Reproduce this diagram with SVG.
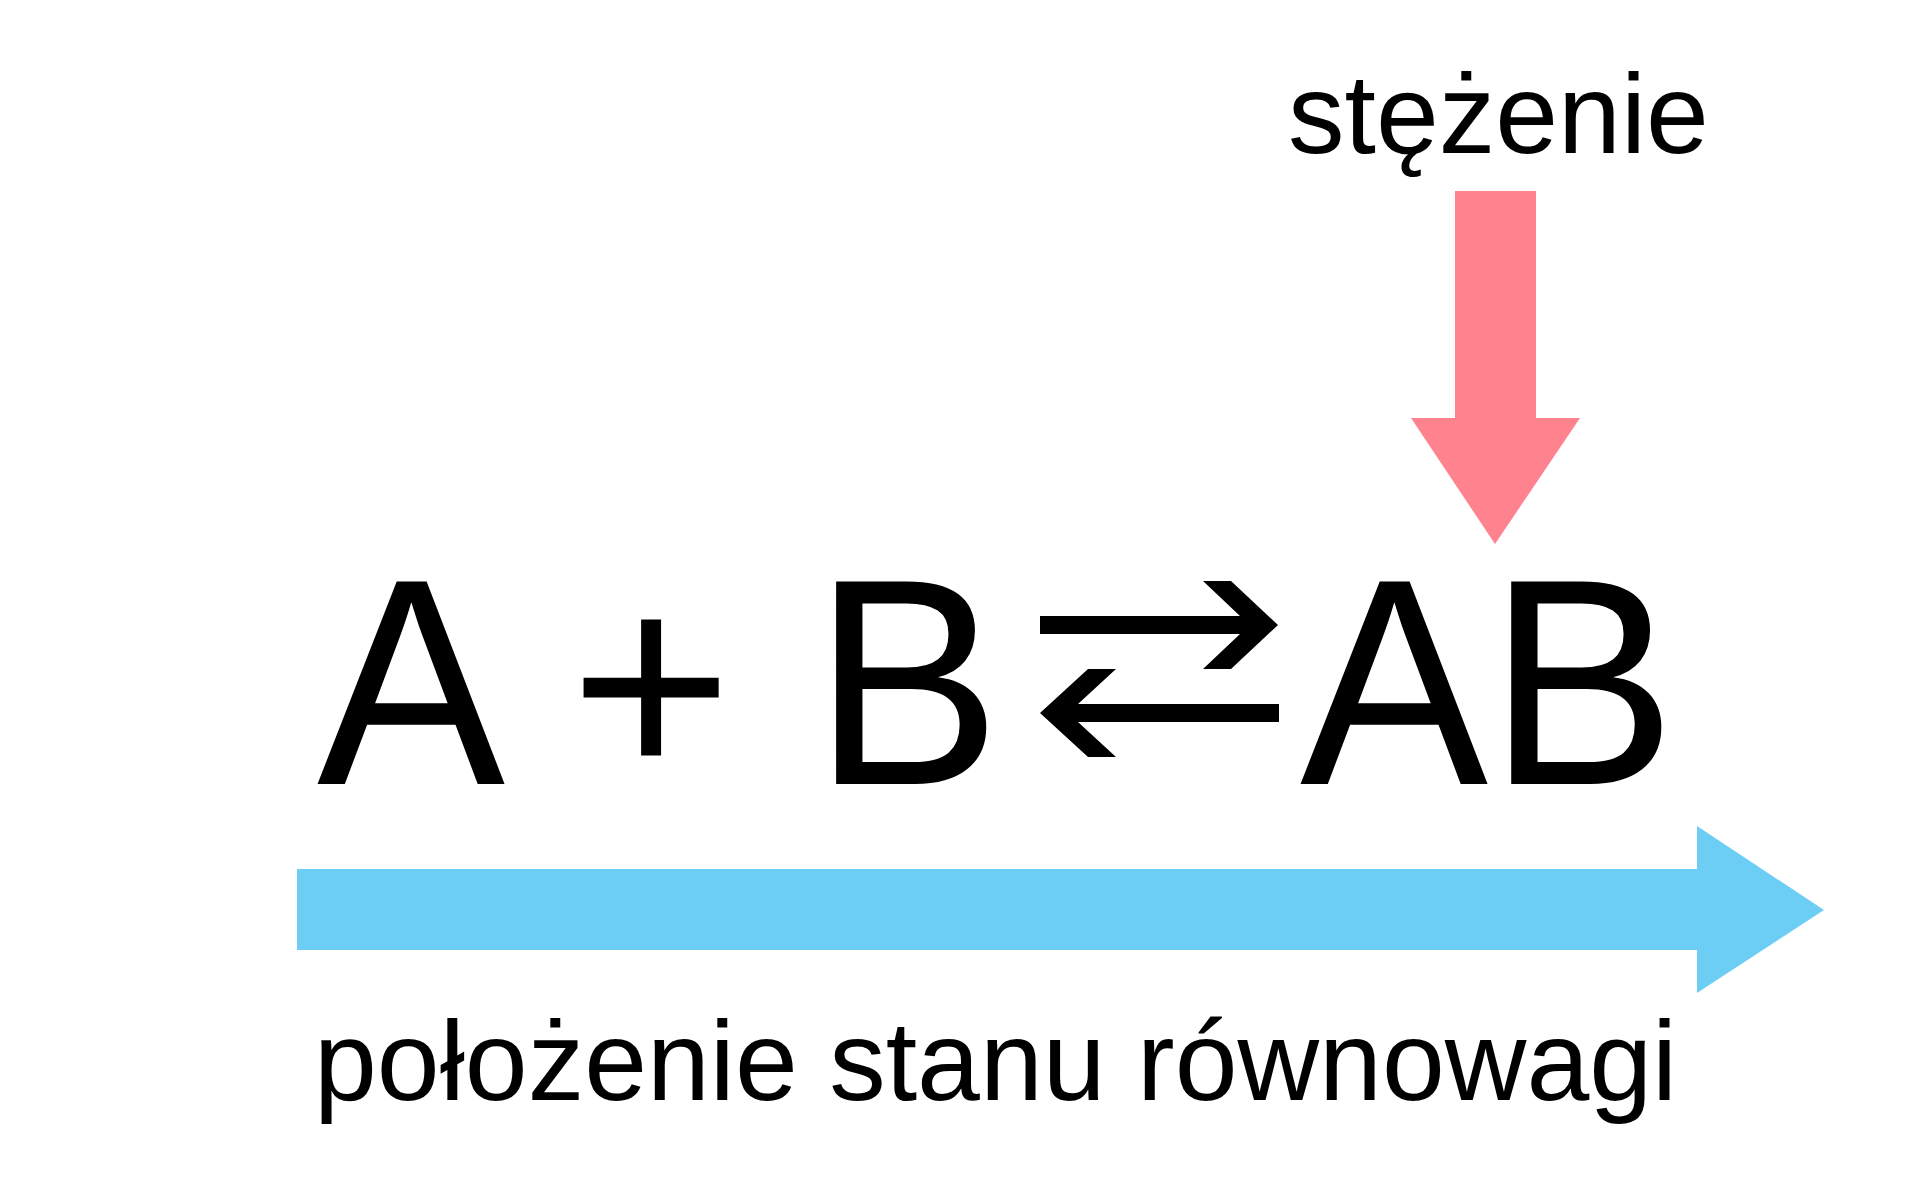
<svg xmlns="http://www.w3.org/2000/svg" width="1920" height="1200" viewBox="0 0 1920 1200">
<style>
.t{font-family:"Liberation Sans",Arial,sans-serif;fill:#000}
.big{font-size:282px}
.lbl{font-size:113px}
.eq{fill:#000}
</style>
<rect width="1920" height="1200" fill="#fff"/>
<g id="connectors">
<polygon id="arrow-concentration" fill="#FF838F" points="1455,191 1536,191 1536,418 1580,418 1495,544 1411,418 1455,418"/>
<polygon id="arrow-equilibrium" fill="#6DCEF5" points="297,869 1697,869 1697,826 1824,910 1697,993 1697,950 297,950"/>
<polygon id="arrow-forward" class="eq" points="1040,616 1240,616 1203,581 1231,581 1278,625 1231,669 1203,669 1240,634 1040,634"/>
<polygon id="arrow-backward" class="eq" points="1279,704 1078,704 1116,669 1088,669 1040,713 1088,757 1116,757 1078,722 1279,722"/>
</g>
<g id="node-stezenie"><text class="t lbl" x="1288" y="153">stężenie</text></g>
<g transform="translate(0,784) scale(1,1.044) translate(0,-784)">
<g id="node-A"><text class="t big" x="317" y="784">A</text></g>
<g id="node-B"><text class="t big" x="813" y="784">B</text></g>
<g id="node-AB"><text class="t big" x="1300" y="784">AB</text></g>
</g>
<g id="node-plus"><text class="t" style="font-size:278px" x="570" y="780">+</text></g>
<g id="node-polozenie"><text class="t lbl" x="314" y="1100">położenie stanu równowagi</text></g>
</svg>
